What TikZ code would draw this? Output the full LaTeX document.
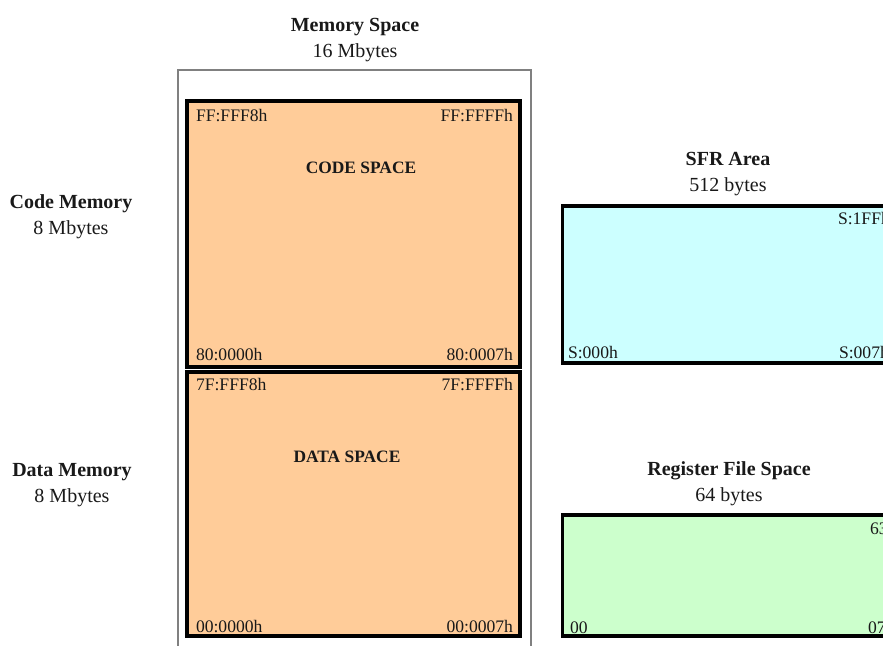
\documentclass[tikz,border=0pt]{standalone}
\usepackage{fontspec}
\setmainfont{Liberation Serif}
\definecolor{codecol}{HTML}{FFCC99}
\definecolor{sfrcol}{HTML}{CCFFFF}
\definecolor{regcol}{HTML}{CCFFCC}
\begin{document}
\begin{tikzpicture}[x=0.5pt, y=-0.5pt,
	every node/.style={inner sep=0pt, outer sep=0pt, text=black!90},
	area/.style={draw=black, line width=1.6pt, minimum width=166.5pt},
	addr/.style={font=\fontsize{8.8}{10}\selectfont},
	head/.style={align=center, font=\fontsize{10}{13}\selectfont},
	inner/.style={font=\fontsize{8.7}{10}\selectfont\bfseries}]
	\useasboundingbox (0,0) rectangle (883,646);
	\clip (0,0) rectangle (883,646);
	% memory space
	\node[draw=gray, line width=0.7pt, minimum width=176.5pt, minimum height=295pt] (space) at (354.5,365) {};
	\node[area, fill=codecol, minimum height=133pt] (code) at (353.5,234) {};
	\node[area, fill=codecol, minimum height=132pt] (data) at (353.5,504) {};
	\node[head] (spacehead) at (355,40) {\textbf{Memory Space}\\16 Mbytes};
	\node[head] (codehead) at (71,217) {\textbf{Code Memory}\\8 Mbytes};
	\node[head] (datahead) at (72,485) {\textbf{Data Memory}\\8 Mbytes};
	\node[inner] (codename) at (361,168) {CODE SPACE};
	\node[inner] (dataname) at (347,457) {DATA SPACE};
	\node[addr, anchor=base west] (c1) at (196,122) {FF:FFF8h};
	\node[addr, anchor=base east] (c2) at (513,122) {FF:FFFFh};
	\node[addr, anchor=base west] (c3) at (196,361) {80:0000h};
	\node[addr, anchor=base east] (c4) at (513,361) {80:0007h};
	\node[addr, anchor=base west] (d1) at (196,391) {7F:FFF8h};
	\node[addr, anchor=base east] (d2) at (513,391) {7F:FFFFh};
	\node[addr, anchor=base west] (d3) at (196,632) {00:0000h};
	\node[addr, anchor=base east] (d4) at (513,632) {00:0007h};
	% sfr area
	\node[area, fill=sfrcol, minimum height=78.5pt] (sfr) at (729,284.5) {};
	\node[head] (sfrhead) at (728,174) {\textbf{SFR Area}\\512 bytes};
	\node[addr, anchor=base west] (s1) at (838,225) {S:1FFh};
	\node[addr, anchor=base west] (s2) at (568,359) {S:000h};
	\node[addr, anchor=base west] (s3) at (839,359) {S:007h};
	% register file
	\node[area, fill=regcol, minimum height=60.5pt] (reg) at (729,575.5) {};
	\node[head] (reghead) at (729,484) {\textbf{Register File Space}\\64 bytes};
	\node[addr, anchor=base west] (r1) at (870,534) {63};
	\node[addr, anchor=base west] (r2) at (570,633) {00};
	\node[addr, anchor=base west] (r3) at (868,633) {07};
\end{tikzpicture}
\end{document}
